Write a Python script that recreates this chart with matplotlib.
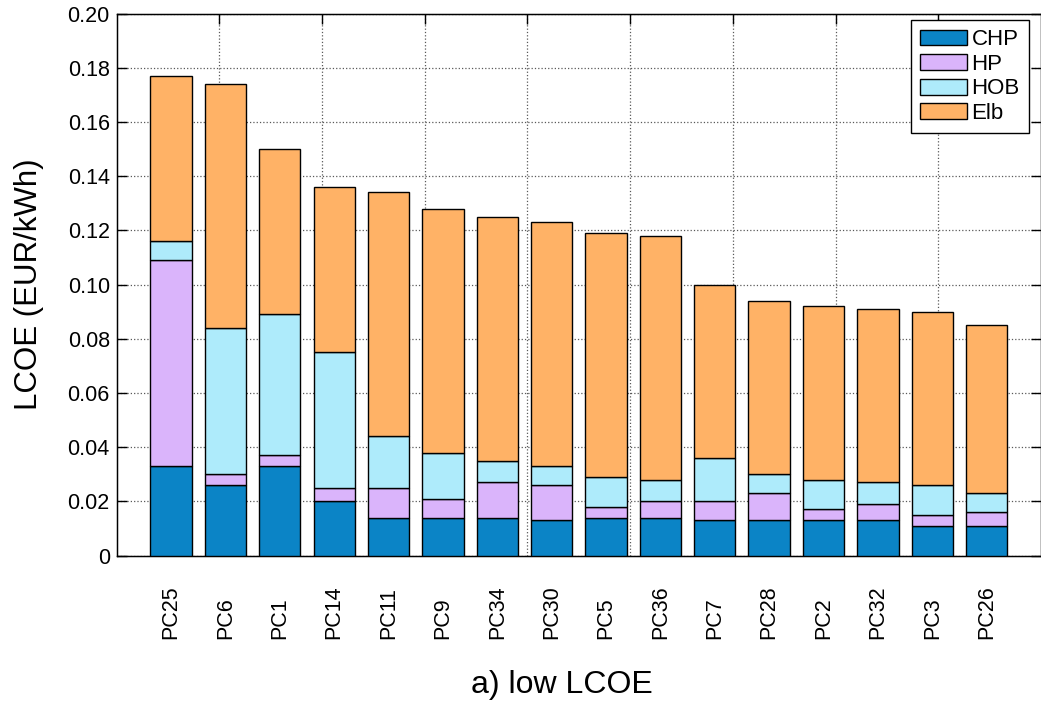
import numpy as np
import matplotlib
matplotlib.use('Agg')
import matplotlib.pyplot as plt

plt.rcParams['font.family'] = ['Liberation Sans', 'DejaVu Sans']

# data (EUR/kWh)
categories = ['PC25', 'PC6', 'PC1', 'PC14', 'PC11', 'PC9', 'PC34', 'PC30',
              'PC5', 'PC36', 'PC7', 'PC28', 'PC2', 'PC32', 'PC3', 'PC26']
chp = [0.033, 0.026, 0.033, 0.020, 0.014, 0.014, 0.014, 0.013,
       0.014, 0.014, 0.013, 0.013, 0.013, 0.013, 0.011, 0.011]
hp = [0.076, 0.004, 0.004, 0.005, 0.011, 0.007, 0.013, 0.013,
      0.004, 0.006, 0.007, 0.010, 0.004, 0.006, 0.004, 0.005]
hob = [0.007, 0.054, 0.052, 0.050, 0.019, 0.017, 0.008, 0.007,
       0.011, 0.008, 0.016, 0.007, 0.011, 0.008, 0.011, 0.007]
elb = [0.061, 0.090, 0.061, 0.061, 0.090, 0.090, 0.090, 0.090,
       0.090, 0.090, 0.064, 0.064, 0.064, 0.064, 0.064, 0.062]

series = [('CHP', chp, '#0b84c6'), ('HP', hp, '#dab4fb'),
          ('HOB', hob, '#aeebfb'), ('Elb', elb, '#ffb266')]

fig = plt.figure(figsize=(10.41, 7.04), dpi=100)
ax = fig.add_axes([0.1121, 0.2109, 0.8879, 0.7699])

x = np.arange(1, len(categories) + 1)
bottom = np.zeros(len(categories))
for name, vals, col in series:
    ax.bar(x, vals, 0.76, bottom=bottom, color=col, edgecolor='black',
           linewidth=1, label=name, zorder=3)
    bottom += np.array(vals)

ax.set_xlim(0, 17)
ax.set_ylim(0, 0.20)
yt = np.arange(0, 0.201, 0.02)
ax.set_yticks(yt)
ax.set_yticklabels(['0'] + [f'{v:.2f}' for v in yt[1:]])
ax.set_xticks(x)
ax.set_xticklabels(categories, rotation=90, va='bottom', ha='center')
ax.tick_params(axis='x', length=0, pad=60, labelsize=15.5)
ax.tick_params(axis='y', direction='in', length=7, width=1, right=True,
               labelsize=15.5, pad=5)
ax.grid(axis='y', linestyle=':', color='0.35', linewidth=0.9)
ax.set_axisbelow(True)
for s in ax.spines.values():
    s.set_linewidth(1)

ax.set_ylabel('LCOE (EUR/kWh)', fontsize=22.5, labelpad=17)
ax.set_xlabel('a) low LCOE', fontsize=23)
ax.xaxis.set_label_coords(0.482, -0.212)

# secondary top axis giving the vertical grid
ax2 = ax.twiny()
ax2.set_xlim(0, 9)
ax2.set_xticks(np.arange(1, 9))
ax2.tick_params(axis='x', direction='in', length=7, width=1, labeltop=False)
ax2.grid(axis='x', linestyle=':', color='0.35', linewidth=0.9)
ax2.set_zorder(ax.get_zorder() - 1)
ax.patch.set_visible(False)

leg = ax.legend(loc='upper right', bbox_to_anchor=(1029 / 1041, 1 - 20 / 704),
                bbox_transform=fig.transFigure, borderaxespad=0, fontsize=16,
                fancybox=False, framealpha=1, edgecolor='black',
                handlelength=2.1, handleheight=0.72, handletextpad=0.22,
                labelspacing=0.16, borderpad=0.42)
leg.get_frame().set_linewidth(1)

fig.savefig('out.png', dpi=100)
